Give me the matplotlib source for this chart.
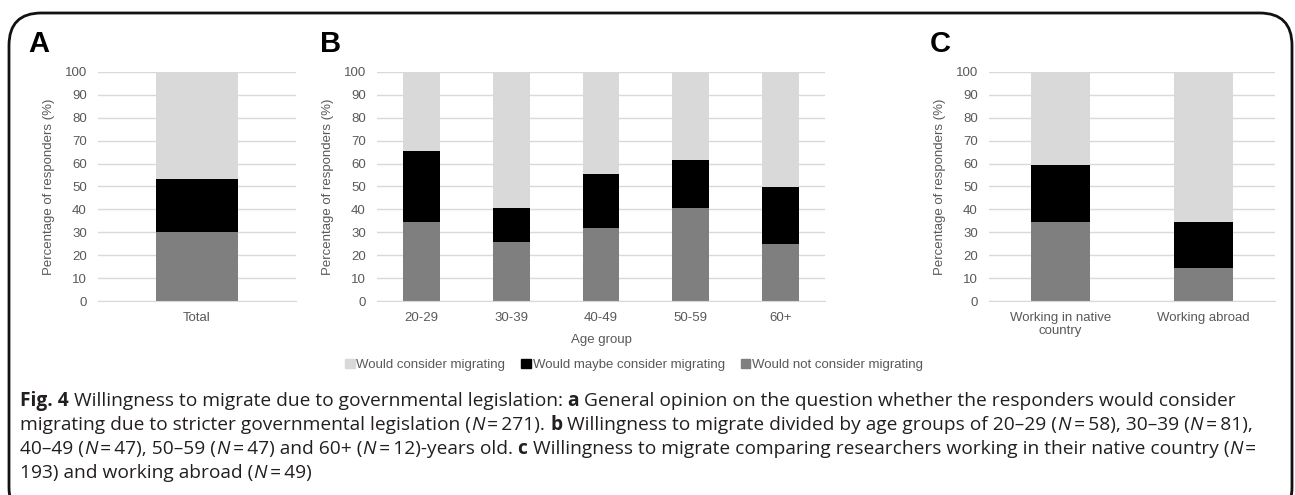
import matplotlib
matplotlib.use("Agg")
import matplotlib.pyplot as plt
from matplotlib.patches import Patch, FancyBboxPatch

# --- data (percent of responders) ---
total_labels = ["Total"]
total_not = [30.3]
total_maybe = [22.9]
total_consider = [46.8]

age_labels = ["20-29", "30-39", "40-49", "50-59", "60+"]
age_not = [34.5, 25.9, 31.9, 40.4, 25.0]
age_maybe = [31.0, 14.8, 23.4, 21.3, 25.0]
age_consider = [34.5, 59.3, 44.7, 38.3, 50.0]

work_labels = ["Working in native\ncountry", "Working abroad"]
work_not = [34.7, 14.3]
work_maybe = [24.9, 20.4]
work_consider = [40.4, 65.3]

series_names = ["Would consider migrating", "Would maybe consider migrating",
                "Would not consider migrating"]
c_consider, c_maybe, c_not = "#d9d9d9", "#000000", "#7f7f7f"
txt = "#595959"
grid_c = "#d9d9d9"

W, H = 1295, 495
fig = plt.figure(figsize=(W / 100, H / 100), dpi=100)
plt.rcParams["font.family"] = ["Liberation Sans", "DejaVu Sans"]


def px_axes(x0, x1, y0, y1):
    return fig.add_axes([x0 / W, 1 - y1 / H, (x1 - x0) / W, (y1 - y0) / H])


def stacked(ax, labels, nots, maybes, considers, xlabel=None):
    x = range(len(labels))
    ax.bar(x, nots, width=0.41, color=c_not, zorder=2)
    ax.bar(x, maybes, width=0.41, bottom=nots, color=c_maybe, zorder=2)
    bottoms = [a + b for a, b in zip(nots, maybes)]
    ax.bar(x, considers, width=0.41, bottom=bottoms, color=c_consider, zorder=2)
    ax.set_xlim(-0.5, len(labels) - 0.5)
    ax.set_ylim(0, 100)
    ax.set_yticks(range(0, 101, 10))
    ax.set_xticks(list(x))
    ax.set_xticklabels(labels, fontsize=9.5, color=txt, linespacing=1.05)
    ax.tick_params(axis="both", length=0, labelsize=9.5, labelcolor=txt)
    ax.tick_params(axis="y", pad=8)
    ax.tick_params(axis="x", pad=8)
    ax.grid(axis="y", color=grid_c, linewidth=1, zorder=0)
    for s in ["top", "right", "left"]:
        ax.spines[s].set_visible(False)
    ax.spines["bottom"].set_color(grid_c)
    ax.set_ylabel("Percentage of responders (%)", fontsize=9.5, color=txt, labelpad=7)
    if xlabel:
        ax.set_xlabel(xlabel, fontsize=9.5, color=txt, labelpad=7)


axA = px_axes(98, 296, 72, 301)
stacked(axA, total_labels, total_not, total_maybe, total_consider)
axB = px_axes(377, 825, 72, 301)
stacked(axB, age_labels, age_not, age_maybe, age_consider, xlabel="Age group")
axC = px_axes(989, 1275, 72, 301)
stacked(axC, work_labels, work_not, work_maybe, work_consider)

# panel letters
for lbl, xp in [("A", 28), ("B", 320), ("C", 930)]:
    fig.text(xp / W, 1 - 52 / H, lbl, fontsize=21, fontweight="bold",
             color="black", ha="left", va="baseline")

# legend
handles = [Patch(color=c) for c in (c_consider, c_maybe, c_not)]
fig.legend(handles, series_names, loc="center", bbox_to_anchor=(634 / W, 1 - 365 / H),
           ncol=3, frameon=False, fontsize=9.5, labelcolor=txt,
           handlelength=0.7, handleheight=0.7, handletextpad=0.15, columnspacing=1.2)

# frame
frame = FancyBboxPatch((9 / W, -0.05), (1292 - 9) / W, 1 - 13 / H + 0.05,
                       boxstyle="round,pad=0,rounding_size=0.025",
                       transform=fig.transFigure, fill=False, edgecolor="#111111",
                       linewidth=2, mutation_aspect=W / H, clip_on=False)
fig.patches.append(frame)

# caption with mixed styles
cap_font = ["Open Sans", "DejaVu Sans"]
cap_size = 13.8
cap_color = "#231f20"
B, I, R = "bold", "italic", "normal"
eq = "\u2009=\u2009"
caption_lines = [
    [(B, "Fig. 4"), (R, " Willingness to migrate due to governmental legislation: "), (B, "a"),
     (R, " General opinion on the question whether the responders would consider")],
    [(R, "migrating due to stricter governmental legislation ("), (I, "N"), (R, eq + "271). "), (B, "b"),
     (R, " Willingness to migrate divided by age groups of 20–29 ("), (I, "N"), (R, eq + "58), 30–39 ("),
     (I, "N"), (R, eq + "81),")],
    [(R, "40–49 ("), (I, "N"), (R, eq + "47), 50–59 ("), (I, "N"), (R, eq + "47) and 60+ ("), (I, "N"),
     (R, eq + "12)-years old. "), (B, "c"),
     (R, " Willingness to migrate comparing researchers working in their native country ("), (I, "N"),
     (R, eq)],
    [(R, "193) and working abroad ("), (I, "N"), (R, eq + "49)")],
]
renderer = fig.canvas.get_renderer()
line_y = [406, 430, 454, 478]
for runs, yb in zip(caption_lines, line_y):
    xpos = 20
    for style, s in runs:
        kw = dict(fontsize=cap_size, color=cap_color, family=cap_font, va="baseline", ha="left")
        if style == B:
            kw["fontweight"] = "bold"
        elif style == I:
            kw["fontstyle"] = "italic"
        t = fig.text(xpos / W, 1 - yb / H, s, **kw)
        bb = t.get_window_extent(renderer)
        xpos += bb.width

fig.savefig("out.png", dpi=100)
